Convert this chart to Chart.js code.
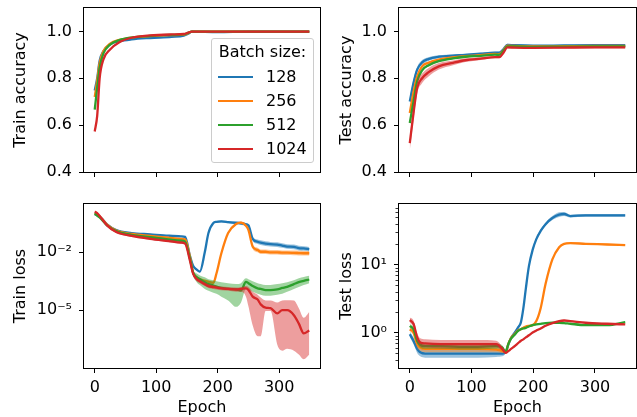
<!DOCTYPE html>
<html>
<head>
<meta charset="utf-8">
<script src="https://cdn.jsdelivr.net/npm/chart.js@4.4.1/dist/chart.umd.min.js"></script>
<style>
  html, body { margin: 0; padding: 0; background: #fff; }
  body { width: 637px; height: 417px; position: relative; overflow: hidden; font-family: 'DejaVu Sans', sans-serif; }
  canvas { position: absolute; }
  #legend { position: absolute; left: 211px; top: 38px; width: 103px; height: 125px; box-sizing: border-box;
            border: 1px solid #cccccc; border-radius: 3px; background: rgba(255,255,255,0.8); font-size: 16px; color: #000; }
  #legend .title { position: absolute; left: 0; right: 0; top: 3px; height: 20px; line-height: 20px; text-align: center; }
  #legend .row { position: absolute; left: 0; right: 0; height: 20px; line-height: 20px; }
  #legend .swatch { position: absolute; left: 6px; top: 9px; width: 35px; height: 2.4px; }
  #legend .txt { position: absolute; left: 54px; top: 0; }
</style>
</head>
<body>
<canvas id="trainAcc" width="326" height="190" style="left:0;top:0"></canvas>
<canvas id="testAcc" width="311" height="190" style="left:326px;top:0"></canvas>
<canvas id="trainLoss" width="326" height="230" style="left:0;top:196px"></canvas>
<canvas id="testLoss" width="311" height="230" style="left:326px;top:196px"></canvas>
<div id="legend"><div class="title">Batch size:</div></div>
<script>
// ---- data ----
const batchSizes = ['128', '256', '512', '1024'];
const colors = ['#1f77b4', '#ff7f0e', '#2ca02c', '#d62728'];
const xTicks = [0, 100, 200, 300];
const accTicks = [0.4, 0.6, 0.8, 1.0];
const accTickLabels = ['0.4', '0.6', '0.8', '1.0'];
const trainLossTicks = [1e-5, 1e-2];
const trainLossTickLabels = ['10\u207B\u2075', '10\u207B\u00B2'];
const testLossTicks = [1, 10];
const testLossTickLabels = ['10\u2070', '10\u00B9'];
const testLossMinorTicks = [0.4, 0.5, 0.6, 0.7, 0.8, 0.9, 2, 3, 4, 5, 6, 7, 8, 9, 20, 30, 40, 50, 60, 70];

// train accuracy
const epochsTrainAcc = [0, 4, 8, 14, 25, 40, 60, 90, 125, 145, 152, 158, 200, 250, 300, 349];
const trainAcc128  = [0.748, 0.80, 0.875, 0.915, 0.945, 0.958, 0.966, 0.972, 0.977, 0.982, 0.990, 0.999, 0.997, 0.999, 0.999, 0.999];
const trainAcc256  = [0.720, 0.79, 0.865, 0.915, 0.948, 0.964, 0.974, 0.980, 0.984, 0.986, 0.993, 0.999, 0.999, 0.999, 0.999, 0.999];
const trainAcc512  = [0.666, 0.76, 0.845, 0.905, 0.944, 0.963, 0.974, 0.981, 0.985, 0.987, 0.994, 0.999, 0.999, 0.999, 0.999, 0.999];
const trainAcc1024 = [0.573, 0.64, 0.800, 0.880, 0.923, 0.954, 0.973, 0.983, 0.987, 0.989, 0.995, 0.999, 0.999, 0.999, 0.999, 0.999];

// test accuracy (mean and spread)
const epochsTestAcc = [0, 6, 12, 20, 30, 47, 70, 90, 115, 138, 145, 152, 158, 170, 200, 250, 300, 349];
const testAcc128  = [0.701, 0.78, 0.837, 0.868, 0.882, 0.892, 0.897, 0.900, 0.905, 0.909, 0.909, 0.925, 0.943, 0.941, 0.939, 0.940, 0.941, 0.941];
const testAcc256  = [0.652, 0.74, 0.808, 0.851, 0.866, 0.880, 0.889, 0.894, 0.899, 0.904, 0.903, 0.920, 0.939, 0.938, 0.936, 0.937, 0.938, 0.938];
const testAcc512  = [0.609, 0.70, 0.787, 0.834, 0.855, 0.873, 0.885, 0.892, 0.896, 0.901, 0.900, 0.918, 0.936, 0.936, 0.934, 0.935, 0.936, 0.936];
const testAcc1024 = [0.523, 0.65, 0.760, 0.800, 0.825, 0.851, 0.866, 0.877, 0.884, 0.890, 0.890, 0.910, 0.932, 0.931, 0.930, 0.931, 0.932, 0.932];
const testAccSpread128  = [0.015, 0.015, 0.012, 0.010, 0.008, 0.006, 0.005, 0.005, 0.004, 0.004, 0.004, 0.004, 0.004, 0.003, 0.003, 0.003, 0.003, 0.003];
const testAccSpread256  = [0.010, 0.010, 0.008, 0.006, 0.005, 0.004, 0.004, 0.004, 0.003, 0.003, 0.003, 0.003, 0.003, 0.003, 0.003, 0.003, 0.003, 0.003];
const testAccSpread512  = [0.010, 0.010, 0.008, 0.006, 0.005, 0.004, 0.004, 0.004, 0.003, 0.003, 0.003, 0.003, 0.003, 0.003, 0.003, 0.003, 0.003, 0.003];
const testAccSpread1024 = [0.030, 0.030, 0.025, 0.020, 0.018, 0.014, 0.010, 0.008, 0.006, 0.005, 0.005, 0.005, 0.004, 0.004, 0.004, 0.004, 0.004, 0.004];

// train loss, log10 of the value
const epochsTrainLoss = [0, 5, 10, 20, 35, 60, 90, 120, 140, 147, 155, 160, 166, 171, 179, 185, 193, 198, 206, 217, 230, 238, 246, 250, 257, 265, 270, 278, 286, 297, 305, 313, 324, 332, 340, 349];
const trainLoss128  = [-0.03, -0.10, -0.20, -0.55, -0.85, -1.00, -1.07, -1.14, -1.17, -1.20, -2.20, -2.70, -2.90, -3.00, -2.00, -1.00, -0.48, -0.42, -0.40, -0.43, -0.47, -0.50, -0.55, -0.60, -1.30, -1.45, -1.50, -1.55, -1.58, -1.60, -1.65, -1.70, -1.72, -1.78, -1.80, -1.84];
const trainLoss256  = [0.00, -0.08, -0.20, -0.57, -0.87, -1.05, -1.15, -1.24, -1.30, -1.33, -2.25, -3.05, -3.30, -3.40, -3.48, -3.53, -3.58, -3.10, -2.05, -1.00, -0.53, -0.46, -0.62, -0.84, -1.71, -1.88, -1.97, -1.97, -2.00, -2.00, -2.02, -2.02, -2.03, -2.04, -2.05, -2.05];
const trainLoss512  = [0.03, -0.12, -0.25, -0.60, -0.90, -1.10, -1.22, -1.33, -1.40, -1.45, -2.35, -3.05, -3.30, -3.40, -3.55, -3.65, -3.72, -3.78, -3.85, -3.90, -3.92, -3.98, -3.53, -3.60, -3.75, -3.87, -3.90, -3.96, -3.96, -3.92, -3.85, -3.79, -3.65, -3.55, -3.48, -3.41];
const trainLoss1024 = [0.11, 0.00, -0.20, -0.60, -0.95, -1.15, -1.30, -1.42, -1.50, -1.55, -2.45, -3.10, -3.40, -3.50, -3.65, -3.75, -3.80, -3.83, -3.87, -3.90, -3.93, -3.90, -3.87, -3.95, -4.30, -4.45, -4.70, -4.87, -4.90, -5.17, -5.00, -5.00, -5.26, -5.70, -6.20, -6.05];
const trainLossSpread128 = [0.03, 0.03, 0.03, 0.03, 0.03, 0.03, 0.03, 0.03, 0.03, 0.03, 0.03, 0.05, 0.05, 0.05, 0.05, 0.05, 0.05, 0.05, 0.05, 0.06, 0.08, 0.08, 0.07, 0.07, 0.10, 0.12, 0.12, 0.12, 0.12, 0.12, 0.12, 0.12, 0.12, 0.12, 0.12, 0.12];
const trainLossSpread256 = [0.03, 0.03, 0.03, 0.03, 0.03, 0.03, 0.03, 0.03, 0.03, 0.03, 0.03, 0.06, 0.08, 0.08, 0.08, 0.08, 0.08, 0.06, 0.05, 0.05, 0.05, 0.06, 0.06, 0.06, 0.10, 0.12, 0.12, 0.12, 0.12, 0.12, 0.12, 0.12, 0.12, 0.12, 0.12, 0.12];
const trainLossLo512  = [-0.02, -0.17, -0.30, -0.65, -0.95, -1.15, -1.27, -1.38, -1.45, -1.50, -2.45, -3.20, -3.55, -3.70, -3.90, -4.00, -4.10, -4.15, -4.30, -4.50, -4.83, -4.60, -3.90, -3.95, -4.05, -4.15, -4.20, -4.25, -4.25, -4.20, -4.15, -4.05, -3.90, -3.80, -3.70, -3.60];
const trainLossHi512  = [0.08, -0.07, -0.20, -0.55, -0.85, -1.05, -1.17, -1.28, -1.35, -1.40, -2.25, -2.90, -3.10, -3.20, -3.30, -3.40, -3.45, -3.50, -3.55, -3.60, -3.65, -3.60, -3.35, -3.40, -3.50, -3.60, -3.65, -3.70, -3.70, -3.65, -3.60, -3.55, -3.45, -3.35, -3.28, -3.22];
const trainLossLo1024 = [0.06, -0.05, -0.25, -0.65, -1.00, -1.20, -1.35, -1.47, -1.55, -1.60, -2.55, -3.20, -3.50, -3.60, -3.75, -3.85, -3.90, -3.93, -3.97, -4.00, -4.05, -4.05, -4.30, -4.80, -5.80, -6.35, -6.35, -5.05, -5.05, -6.80, -7.10, -7.00, -7.10, -7.30, -7.55, -7.30];
const trainLossHi1024 = [0.18, 0.07, -0.13, -0.53, -0.88, -1.08, -1.23, -1.35, -1.43, -1.48, -2.38, -3.00, -3.30, -3.40, -3.55, -3.65, -3.70, -3.73, -3.77, -3.80, -3.83, -3.80, -3.75, -3.80, -4.05, -4.20, -4.35, -4.50, -4.50, -4.60, -4.50, -4.48, -4.50, -4.90, -5.40, -5.10];

// test loss, log10 of the value
const epochsTestLoss = [0, 6, 12, 17, 25, 50, 80, 110, 140, 150, 155, 160, 164, 170, 175, 180, 184, 188, 193, 199, 205, 212, 220, 231, 242, 250, 260, 285, 320, 349];
const testLoss128  = [-0.025, -0.12, -0.24, -0.29, -0.31, -0.31, -0.31, -0.31, -0.31, -0.31, -0.29, -0.17, -0.08, 0.00, 0.07, 0.15, 0.36, 0.65, 0.98, 1.22, 1.38, 1.50, 1.60, 1.69, 1.74, 1.75, 1.72, 1.73, 1.73, 1.73];
const testLoss256  = [0.048, 0.00, -0.17, -0.22, -0.24, -0.24, -0.24, -0.24, -0.25, -0.27, -0.29, -0.16, -0.08, -0.02, 0.03, 0.05, 0.07, 0.09, 0.10, 0.11, 0.17, 0.36, 0.72, 1.08, 1.26, 1.31, 1.32, 1.31, 1.30, 1.29];
const testLoss512  = [0.097, 0.05, -0.12, -0.18, -0.20, -0.20, -0.21, -0.21, -0.20, -0.22, -0.29, -0.16, -0.09, -0.03, 0.02, 0.05, 0.06, 0.07, 0.09, 0.11, 0.12, 0.13, 0.14, 0.145, 0.145, 0.14, 0.13, 0.11, 0.11, 0.155];
const testLoss1024 = [0.184, 0.13, -0.07, -0.145, -0.16, -0.17, -0.17, -0.17, -0.17, -0.24, -0.30, -0.27, -0.24, -0.20, -0.16, -0.12, -0.10, -0.07, -0.04, 0.00, 0.03, 0.06, 0.10, 0.14, 0.17, 0.178, 0.17, 0.145, 0.13, 0.12];
const testLossSpread128  = [0.04, 0.05, 0.06, 0.06, 0.06, 0.06, 0.06, 0.06, 0.05, 0.04, 0.02, 0.02, 0.02, 0.02, 0.02, 0.02, 0.02, 0.02, 0.02, 0.02, 0.02, 0.02, 0.025, 0.03, 0.035, 0.03, 0.02, 0.02, 0.02, 0.02];
const testLossSpread256  = [0.03, 0.04, 0.05, 0.05, 0.05, 0.05, 0.05, 0.05, 0.04, 0.03, 0.01, 0.01, 0.01, 0.01, 0.01, 0.01, 0.01, 0.01, 0.01, 0.01, 0.01, 0.01, 0.01, 0.01, 0.01, 0.01, 0.01, 0.01, 0.01, 0.01];
const testLossSpread512  = [0.03, 0.03, 0.04, 0.04, 0.04, 0.04, 0.04, 0.04, 0.04, 0.03, 0.01, 0.01, 0.01, 0.01, 0.01, 0.01, 0.01, 0.01, 0.01, 0.01, 0.01, 0.01, 0.01, 0.01, 0.01, 0.01, 0.01, 0.01, 0.01, 0.01];
const testLossSpread1024 = [0.04, 0.05, 0.06, 0.06, 0.06, 0.06, 0.06, 0.06, 0.05, 0.03, 0.01, 0.01, 0.01, 0.01, 0.01, 0.01, 0.01, 0.01, 0.01, 0.01, 0.01, 0.01, 0.01, 0.01, 0.01, 0.01, 0.01, 0.01, 0.01, 0.01];

// ---- helpers ----
const FONT = { family: "'DejaVu Sans', sans-serif", size: 16 };
const ident = v => v;
const fromLog = v => Math.pow(10, v);

function fade(hex, a) {
  const n = parseInt(hex.slice(1), 16);
  return `rgba(${(n >> 16) & 255},${(n >> 8) & 255},${n & 255},${a})`;
}

function spreadBand(vals, spread) {
  return { lo: vals.map((v, i) => v - spread[i]), hi: vals.map((v, i) => v + spread[i]) };
}

function buildDatasets(epochs, seriesList, toVal) {
  const out = [];
  seriesList.forEach((s, k) => {
    const pts = arr => epochs.map((e, i) => ({ x: e, y: toVal(arr[i]) }));
    const depth = 2 * (seriesList.length - 1 - k);
    if (s.band) {
      out.push({ data: pts(s.band.lo), borderWidth: 0, borderColor: 'transparent', pointRadius: 0,
                 fill: false, order: depth + 1, cubicInterpolationMode: 'monotone' });
      out.push({ data: pts(s.band.hi), borderWidth: 0, borderColor: 'transparent', pointRadius: 0,
                 fill: '-1', backgroundColor: fade(colors[k], 0.45), order: depth + 1, cubicInterpolationMode: 'monotone' });
    }
    out.push({ label: batchSizes[k], data: pts(s.vals), borderColor: colors[k], borderWidth: 2.3,
               pointRadius: 0, fill: false, order: depth, cubicInterpolationMode: 'monotone' });
  });
  return out;
}

// box round each panel
const framePlugin = {
  id: 'frame',
  afterDraw(chart) {
    const { ctx, chartArea: a } = chart;
    ctx.save();
    ctx.strokeStyle = '#000';
    ctx.lineWidth = 1;
    ctx.strokeRect(Math.round(a.left) - 0.5, Math.round(a.top) - 0.5,
                   Math.round(a.right - a.left) + 1, Math.round(a.bottom - a.top) + 1);
    ctx.restore();
  }
};

// short minor ticks for the log axis
const minorTickPlugin = {
  id: 'minorTicks',
  afterDraw(chart, args, opts) {
    const vals = opts.values || [];
    if (!vals.length) return;
    const { ctx, chartArea: a } = chart;
    const y = chart.scales.y;
    ctx.save();
    ctx.strokeStyle = '#000';
    ctx.lineWidth = 0.8;
    ctx.beginPath();
    vals.forEach(v => {
      const py = Math.round(y.getPixelForValue(v)) + 0.5;
      ctx.moveTo(a.left - 3.5, py);
      ctx.lineTo(a.left, py);
    });
    ctx.stroke();
    ctx.restore();
  }
};

function zeroPad(s) { s.paddingLeft = 0; s.paddingRight = 0; s.paddingTop = 0; s.paddingBottom = 0; }

function makeChart(id, datasets, o) {
  const tickGrid = { drawOnChartArea: false, drawTicks: true, tickLength: 5, tickColor: '#000', tickWidth: 1 };
  return new Chart(document.getElementById(id), {
    type: 'line',
    data: { datasets },
    options: {
      responsive: false, animation: false, devicePixelRatio: 1,
      layout: { padding: { top: 8, right: o.padRight, bottom: 0, left: 0 } },
      plugins: { legend: { display: false }, tooltip: { enabled: false }, minorTicks: { values: o.minorTicks || [] } },
      scales: {
        x: {
          type: 'linear', min: -17.45, max: 366.45,
          afterBuildTicks: s => { s.ticks = xTicks.map(v => ({ value: v })); },
          afterFit: s => { s.height = o.xHeight; zeroPad(s); },
          ticks: { autoSkip: false, maxRotation: 0, padding: 5, color: '#000', font: FONT,
                   callback: v => o.showX ? String(v) : '' },
          grid: tickGrid,
          border: { display: false },
          title: { display: o.showX, text: 'Epoch', color: '#000', font: FONT, padding: { top: 0, bottom: 8.5 } }
        },
        y: {
          type: o.yType, min: o.yMin, max: o.yMax,
          afterBuildTicks: s => { s.ticks = o.yTicks.map(v => ({ value: v })); },
          afterFit: s => { s.width = o.yWidth; zeroPad(s); },
          ticks: { padding: 7, color: '#000', font: FONT, callback: (v, i) => o.yLabels[i] },
          grid: tickGrid,
          border: { display: false },
          title: { display: true, text: o.yTitle, color: '#000', font: FONT, padding: { top: 11.5, bottom: 0 } }
        }
      }
    },
    plugins: [framePlugin, minorTickPlugin]
  });
}

// ---- panels ----
makeChart('trainAcc', buildDatasets(epochsTrainAcc, [
  { vals: trainAcc128 }, { vals: trainAcc256 }, { vals: trainAcc512 }, { vals: trainAcc1024 }
], ident), { yType: 'linear', yMin: 0.4, yMax: 1.1, yTicks: accTicks, yLabels: accTickLabels,
             yTitle: 'Train accuracy', yWidth: 84, padRight: 6, xHeight: 18, showX: false });

makeChart('testAcc', buildDatasets(epochsTestAcc, [
  { vals: testAcc128, band: spreadBand(testAcc128, testAccSpread128) },
  { vals: testAcc256, band: spreadBand(testAcc256, testAccSpread256) },
  { vals: testAcc512, band: spreadBand(testAcc512, testAccSpread512) },
  { vals: testAcc1024, band: spreadBand(testAcc1024, testAccSpread1024) }
], ident), { yType: 'linear', yMin: 0.4, yMax: 1.1, yTicks: accTicks, yLabels: accTickLabels,
             yTitle: 'Test accuracy', yWidth: 73, padRight: 1, xHeight: 18, showX: false });

makeChart('trainLoss', buildDatasets(epochsTrainLoss, [
  { vals: trainLoss128, band: spreadBand(trainLoss128, trainLossSpread128) },
  { vals: trainLoss256, band: spreadBand(trainLoss256, trainLossSpread256) },
  { vals: trainLoss512, band: { lo: trainLossLo512, hi: trainLossHi512 } },
  { vals: trainLoss1024, band: { lo: trainLossLo1024, hi: trainLossHi1024 } }
], fromLog), { yType: 'logarithmic', yMin: 1e-8, yMax: 3.2, yTicks: trainLossTicks, yLabels: trainLossTickLabels,
               yTitle: 'Train loss', yWidth: 84, padRight: 6, xHeight: 58, showX: true });

makeChart('testLoss', buildDatasets(epochsTestLoss, [
  { vals: testLoss128, band: spreadBand(testLoss128, testLossSpread128) },
  { vals: testLoss256, band: spreadBand(testLoss256, testLossSpread256) },
  { vals: testLoss512, band: spreadBand(testLoss512, testLossSpread512) },
  { vals: testLoss1024, band: spreadBand(testLoss1024, testLossSpread1024) }
], fromLog), { yType: 'logarithmic', yMin: 0.333, yMax: 79, yTicks: testLossTicks, yLabels: testLossTickLabels,
               yTitle: 'Test loss', yWidth: 73, padRight: 1, xHeight: 58, showX: true, minorTicks: testLossMinorTicks });

// ---- legend ----
const legend = document.getElementById('legend');
batchSizes.forEach((b, k) => {
  const row = document.createElement('div');
  row.className = 'row';
  row.style.top = (28 + k * 24) + 'px';
  const sw = document.createElement('div');
  sw.className = 'swatch';
  sw.style.background = colors[k];
  const t = document.createElement('div');
  t.className = 'txt';
  t.textContent = b;
  row.appendChild(sw);
  row.appendChild(t);
  legend.appendChild(row);
});
</script>
</body>
</html>
